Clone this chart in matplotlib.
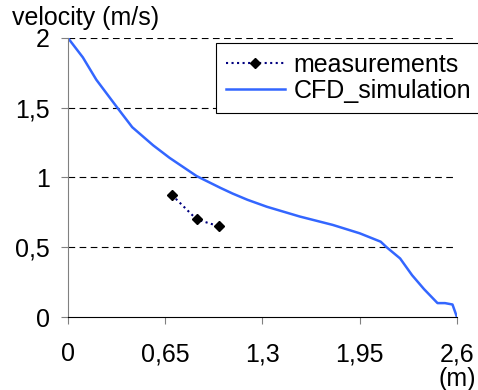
import matplotlib
matplotlib.use("Agg")
import matplotlib.pyplot as plt

plt.rcParams["font.family"] = ["Liberation Sans", "DejaVu Sans"]

# CFD velocity profile
cfd_x = [0, 0.1, 0.19, 0.33, 0.43, 0.57, 0.68, 0.86, 1.02, 1.1, 1.2, 1.33, 1.55,
         1.77, 1.95, 2.09, 2.13, 2.22, 2.3, 2.38, 2.47, 2.52, 2.57, 2.6]
cfd_y = [2.0, 1.86, 1.70, 1.50, 1.36, 1.23, 1.14, 1.01, 0.925, 0.885, 0.84, 0.79,
         0.72, 0.66, 0.60, 0.54, 0.50, 0.42, 0.30, 0.20, 0.10, 0.10, 0.09, 0.0]

meas_x = [0.695, 0.86, 1.01]
meas_y = [0.875, 0.70, 0.65]

xticks = [0, 0.65, 1.3, 1.95, 2.6]
xlabels = ["0", "0,65", "1,3", "1,95", "2,6"]
yticks = [0, 0.5, 1, 1.5, 2]
ylabels = ["0", "0,5", "1", "1,5", "2"]

FS = 18

fig = plt.figure(figsize=(4.78, 3.9), dpi=100)
ax = fig.add_axes([0.142, 0.187, 0.814, 0.716])

ax.plot(meas_x, meas_y, color="#000080", ls=":", lw=1.5, marker="D", ms=5.5,
        mfc="black", mec="black", label="measurements")
ax.plot(cfd_x, cfd_y, color="#3366ff", lw=1.8, label="CFD_simulation")

ax.set_xlim(0, 2.6)
ax.set_ylim(0, 2)
ax.set_xticks(xticks)
ax.set_xticklabels(xlabels)
ax.set_yticks(yticks)
ax.set_yticklabels(ylabels)
ax.tick_params(labelsize=FS, length=5, color="#808080")
ax.tick_params(axis="x", pad=13)
ax.tick_params(axis="y", pad=8)
for v in yticks[1:]:
    ax.axhline(v, color="black", ls=(0, (6, 4)), lw=0.8, zorder=0)

ax.spines["top"].set_visible(False)
ax.spines["right"].set_visible(False)
ax.spines["left"].set_color("#808080")
ax.spines["bottom"].set_color("black")

fig.text(0.025, 0.955, "velocity (m/s)", fontsize=FS, ha="left", va="center")
fig.text(0.995, 0.028, "(m)", fontsize=FS, ha="right", va="center")

leg = ax.legend(loc="upper left", bbox_to_anchor=(0.380, 0.982), fontsize=FS,
                frameon=True, fancybox=False, edgecolor="black", framealpha=1,
                handlelength=2.36, handletextpad=0.36, borderpad=0.4,
                labelspacing=0.08, borderaxespad=0)
leg.get_frame().set_linewidth(0.8)

fig.savefig("out.png", dpi=100)
